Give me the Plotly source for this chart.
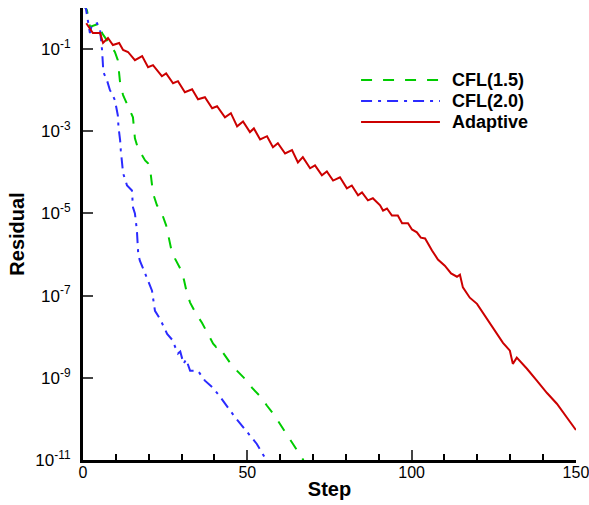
import plotly.graph_objects as go

# Residual history (x = step, y = log10(residual))
adaptive_step = [1, 3, 5.2, 6.1, 7.6, 9.1, 11, 12.2, 13.7, 15.8, 18, 19.8, 21.3, 24, 25.3, 27.4, 28.9, 31, 33.2, 35,
                 37.1, 39.3, 40.8, 43.2, 45, 46.9, 48.7, 50.8, 52, 53.9, 56, 57.8, 59.3, 61.5, 63.6, 65.4, 66.9, 69.1,
                 70.6, 72.7, 74.2, 76.1, 78.2, 80.3, 81.8, 83.7, 84.9, 86.7, 88.2, 90.4, 91.3, 92.5, 94, 95.8, 97.1,
                 98.9, 100.1, 101.6, 102.8, 104.1, 106.2, 108, 110.1, 112, 113.8, 114.7, 115.6, 117.7, 119.9, 122.9,
                 125.3, 127.8, 129.9, 130.8, 132, 135.1, 138.1, 141.2, 144.2, 147.3, 150]
adaptive_log = [-0.37, -0.61, -0.61, -0.85, -0.73, -0.90, -0.85, -1.02, -1.07, -1.27, -1.17, -1.44, -1.39, -1.66, -1.59,
                -1.83, -1.78, -2.05, -1.98, -2.22, -2.17, -2.44, -2.39, -2.66, -2.56, -2.88, -2.76, -3.02, -2.93, -3.20,
                -3.12, -3.39, -3.29, -3.54, -3.46, -3.76, -3.63, -3.90, -3.83, -4.07, -3.98, -4.20, -4.12, -4.39, -4.32,
                -4.56, -4.49, -4.68, -4.63, -4.80, -4.93, -4.88, -5.05, -5.05, -5.24, -5.24, -5.39, -5.46, -5.59, -5.61,
                -5.90, -6.12, -6.27, -6.46, -6.54, -6.49, -6.80, -7.05, -7.20, -7.56, -7.85, -8.15, -8.34, -8.66, -8.51,
                -8.78, -9.07, -9.37, -9.63, -9.98, -10.27]

cfl15_step = [0, 1.2, 2.1, 3.7, 5.2, 5.8, 9.7, 10.6, 11.3, 12.2, 13.7, 15.2, 15.8, 16.7, 18.9, 19.8, 20.4, 21.3, 22.5,
              24, 25.3, 25.9, 26.8, 28, 29.8, 30.7, 31.6, 32.6, 34.4, 36.2, 38, 39.6, 40.5, 41.2, 42, 44.7, 46.9, 49.6,
              51.4, 53.8, 56, 58.4, 59.9, 62.4, 63.9, 66.9, 68]
cfl15_log = [0.1, -0.05, -0.46, -0.41, -0.37, -0.61, -1.07, -1.27, -1.83, -2.12, -2.37, -2.66, -3.17, -3.41, -3.71,
             -3.78, -3.90, -4.51, -4.80, -5.0, -5.29, -5.54, -5.85, -6.10, -6.37, -6.61, -6.93, -7.17, -7.44, -7.66,
             -7.93, -8.17, -8.25, -8.22, -8.32, -8.63, -8.83, -9.05, -9.24, -9.44, -9.68, -9.93, -10.12, -10.41,
             -10.61, -10.98, -11.2]

cfl20_step = [0, 0.9, 2.1, 2.7, 4.3, 5.2, 5.8, 6.2, 7.3, 8.2, 8.8, 9.7, 10.6, 10.8, 11.3, 11.5, 12.2, 13.4, 14.9, 15.2,
              15.8, 16.1, 16.4, 16.8, 17.3, 18.3, 19.2, 19.8, 21.0, 21.3, 21.9, 23.4, 25.6, 27.1, 28.9, 29.6, 30.6,
              31.4, 32.6, 35.0, 37.1, 39.5, 41.7, 46.2, 48.4, 50.8, 52.9, 55.4, 56.5]
cfl20_log = [0.1, -0.02, -0.61, -0.41, -0.37, -0.54, -1.02, -1.56, -1.76, -2.0, -2.08, -2.24, -2.61, -2.9, -3.22,
             -3.46, -4.02, -4.32, -4.44, -4.85, -5.0, -5.24, -5.41, -5.98, -6.15, -6.34, -6.51, -6.63, -6.88, -7.05,
             -7.37, -7.56, -7.93, -8.07, -8.41, -8.36, -8.66, -8.55, -8.83, -8.83, -9.07, -9.24, -9.46, -9.95, -10.17,
             -10.39, -10.61, -10.95, -11.2]

series_names = ["CFL(1.5)", "CFL(2.0)", "Adaptive"]
series_colors = ["#00cc00", "#2b2bff", "#cc0000"]
series_dashes = ["11px,11px", "11px,6px,3px,6px", "solid"]
y_tick_exps = [-1, -3, -5, -7, -9, -11]
y_tick_text = ["10<sup>%d</sup>" % e for e in y_tick_exps]
x_ticks = [0, 50, 100, 150]

FONT = "Liberation Sans, Arial, Helvetica, sans-serif"


def to_res(logs):
    return [10 ** v for v in logs]


fig = go.Figure()
for name, steps, logs, col, dsh in zip(series_names,
                                       [cfl15_step, cfl20_step, adaptive_step],
                                       [cfl15_log, cfl20_log, adaptive_log],
                                       series_colors, series_dashes):
    fig.add_trace(go.Scatter(x=steps, y=to_res(logs), mode="lines", name=name,
                             line=dict(color=col, width=2, dash=dsh), showlegend=False))

# legend drawn as samples + labels in paper coordinates
leg_y = [0.8407, 0.7942, 0.7478]
for name, col, dsh, yy in zip(series_names, series_colors, series_dashes, leg_y):
    fig.add_shape(type="line", xref="paper", yref="paper", x0=0.564, x1=0.724, y0=yy, y1=yy,
                  line=dict(color=col, width=2, dash=dsh))
    fig.add_annotation(xref="paper", yref="paper", x=0.7445, y=yy, xanchor="left", yanchor="middle",
                       text="<b>%s</b>" % name, showarrow=False, font=dict(size=18, color="black"))

fig.update_layout(
    width=589, height=505,
    margin=dict(l=83, r=13, t=8, b=45, autoexpand=False),
    paper_bgcolor="white", plot_bgcolor="white",
    font=dict(family=FONT, color="black", size=16),
    showlegend=False,
)
fig.update_xaxes(range=[0, 150.02], tickvals=x_ticks, ticks="inside", ticklen=10, tickwidth=2,
                 ticklabeloverflow="allow", automargin=False, ticklabelstandoff=-4,
                 showline=True, linewidth=3, linecolor="black", showgrid=False, zeroline=False,
                 minor=dict(dtick=10, ticks="inside", ticklen=6, tickwidth=1.5, tickcolor="black", showgrid=False),
                 title=dict(text="Step", font=dict(size=20, weight="bold"), standoff=2),
                 tickfont=dict(size=16))
fig.update_yaxes(type="log", range=[-11, 0], tickvals=[10 ** e for e in y_tick_exps], ticktext=y_tick_text,
                 ticks="inside", ticklen=10, tickwidth=2, showline=True, linewidth=3, linecolor="black",
                 showgrid=False, zeroline=False, ticklabelstandoff=6, ticklabeloverflow="allow", automargin=False,
                 title=dict(text="Residual", font=dict(size=20, weight="bold"), standoff=6),
                 tickfont=dict(size=17))

fig.write_html("out.html")
